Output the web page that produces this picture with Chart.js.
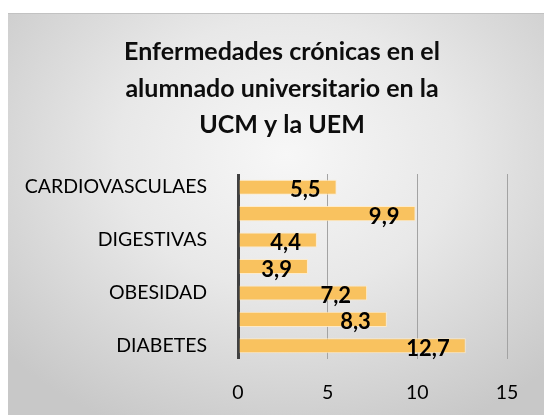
<!DOCTYPE html>
<html>
<head>
<meta charset="utf-8">
<script src="https://cdn.jsdelivr.net/npm/chart.js@4/dist/chart.umd.min.js"></script>
<style>
  html, body { margin: 0; padding: 0; background: #ffffff; }
  #bg { position: absolute; left: 8px; top: 13px; width: 536px; height: 402px;
        background: radial-gradient(ellipse 70% 75% at 52% 35%, #f7f7f7 0%, #e8e8e8 45%, #c8c8c8 100%);
        border-top: 1px solid #c2c2c2; box-sizing: border-box; }
  #wrap { position: absolute; left: 0; top: 0; width: 544px; height: 415px; }
</style>
</head>
<body>
<div id="bg"></div>
<div id="wrap"><canvas id="c" width="544" height="415"></canvas></div>
<script>
// Data (top to bottom as displayed)
const categories = ["CARDIOVASCULAES", "", "DIGESTIVAS", "", "OBESIDAD", "", "DIABETES"];
const values = [5.5, 9.9, 4.4, 3.9, 7.2, 8.3, 12.7];
const xTicks = [0, 5, 10, 15];
const titleLines = ["Enfermedades crónicas en el", "alumnado universitario en la", "UCM y la UEM"];

const FONT = "Lato, 'Open Sans', sans-serif";

const titlePlugin = {
  id: 'customTitle',
  afterDraw(chart) {
    const ctx = chart.ctx;
    ctx.save();
    ctx.font = "bold 25px " + FONT;
    ctx.fillStyle = '#0d0d0d';
    ctx.textAlign = 'center';
    ctx.textBaseline = 'middle';
    const cx = chart.width / 2 + 10;
    titleLines.forEach((line, i) => ctx.fillText(line, cx, 52 + i * 36.5));
    ctx.restore();
  }
};

const dataLabels = {
  id: 'dataLabels',
  afterDatasetsDraw(chart) {
    const ctx = chart.ctx;
    const meta = chart.getDatasetMeta(0);
    ctx.save();
    ctx.font = "bold 22px " + FONT;
    ctx.fillStyle = '#000000';
    ctx.textAlign = 'right';
    ctx.textBaseline = 'middle';
    meta.data.forEach((bar, i) => {
      const txt = values[i].toFixed(1).replace('.', ',');
      ctx.fillText(txt, bar.x - 16, bar.y + 3);
    });
    ctx.restore();
  }
};

new Chart(document.getElementById('c'), {
  type: 'bar',
  data: {
    labels: categories,
    datasets: [{
      data: values,
      backgroundColor: '#f9c25f',
      borderColor: 'rgba(255,235,200,0.9)',
      borderWidth: 1,
      categoryPercentage: 1.0,
      barPercentage: 0.57
    }]
  },
  options: {
    indexAxis: 'y',
    responsive: false,
    animation: false,
    events: [],
    layout: { padding: { left: 10, right: 37, top: 174, bottom: 0 } },
    plugins: {
      legend: { display: false },
      tooltip: { enabled: false },
      title: { display: false }
    },
    scales: {
      x: {
        min: 0, max: 15,
        afterBuildTicks(scale) { scale.ticks = xTicks.map(v => ({ value: v })); },
        afterFit(scale) { scale.height = 56; },
        border: { display: false },
        grid: {
          drawTicks: false,
          color: (c) => c.tick && c.tick.value === 0 ? '#404040' : '#a3a3a3',
          lineWidth: (c) => c.tick && c.tick.value === 0 ? 3 : 1
        },
        ticks: { color: '#000000', padding: 22, font: { family: FONT, size: 19.5 } }
      },
      y: {
        afterFit(scale) { scale.width = 238 - 10; },
        border: { display: false },
        grid: { display: false, drawTicks: false },
        ticks: { color: '#000000', padding: 31, autoSkip: false, font: { family: FONT, size: 19.5 } }
      }
    }
  },
  plugins: [dataLabels, titlePlugin]
});
</script>
</body>
</html>
